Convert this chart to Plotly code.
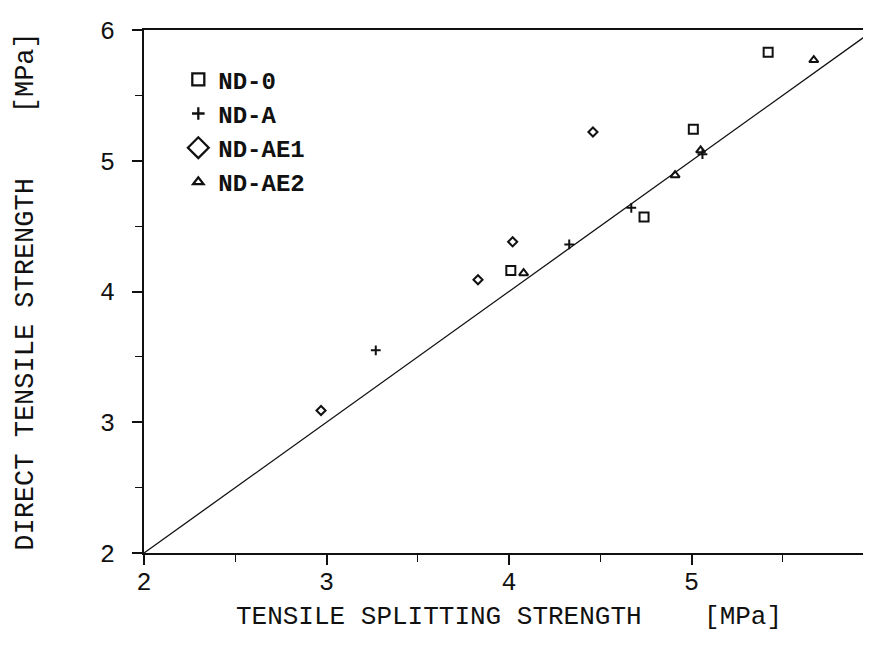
import plotly.graph_objects as go

# ---- data ----
nd0_x = [4.01, 4.74, 5.01, 5.42]
nd0_y = [4.16, 4.57, 5.24, 5.83]

nda_x = [3.27, 4.33, 4.67, 5.06]
nda_y = [3.55, 4.36, 4.64, 5.05]

ndae1_x = [2.97, 3.83, 4.02, 4.46]
ndae1_y = [3.09, 4.09, 4.38, 5.22]

ndae2_x = [4.08, 4.91, 5.05, 5.67]
ndae2_y = [4.14, 4.89, 5.08, 5.77]

line_x = [2, 6]
line_y = [2, 6]

series_names = ["ND-0", "ND-A", "ND-AE1", "ND-AE2"]
tick_vals = [2, 3, 4, 5, 6]

FONT = "Liberation Mono"
BLACK = "#111111"

symbols = ["square-open", "cross-thin-open", "diamond-open", "triangle-up-open"]
data_sizes = [9, 7, 7, 8]
legend_sizes = [12, 9, 16, 9]
series = [(nd0_x, nd0_y), (nda_x, nda_y), (ndae1_x, ndae1_y), (ndae2_x, ndae2_y)]

fig = go.Figure()

fig.add_trace(go.Scatter(x=line_x, y=line_y, mode="lines",
                         line=dict(color=BLACK, width=1.3),
                         showlegend=False, hoverinfo="skip"))

for (xs, ys), name, sym, sz in zip(series, series_names, symbols, data_sizes):
    fig.add_trace(go.Scatter(
        x=xs, y=ys, mode="markers", name=name, showlegend=False,
        marker=dict(symbol=sym, size=sz, color=BLACK,
                    line=dict(color=BLACK, width=2))))

for name, sym, sz in zip(series_names, symbols, legend_sizes):
    fig.add_trace(go.Scatter(
        x=[None], y=[None], mode="markers", name=name, showlegend=True,
        marker=dict(symbol=sym, size=sz, color=BLACK,
                    line=dict(color=BLACK, width=2.3))))

axis_common = dict(
    range=[2, 6], tickvals=tick_vals, showgrid=False, zeroline=False,
    showline=True, linecolor=BLACK, linewidth=2, mirror=True,
    ticks="outside", ticklen=10, tickwidth=1.5, tickcolor=BLACK,
    minor=dict(dtick=0.5, ticks="outside", ticklen=7, tickwidth=1.2, tickcolor=BLACK),
    tickfont=dict(family=FONT, size=25, color=BLACK),
    ticklabeloverflow="allow",
    automargin=False,
)

x_title = "TENSILE SPLITTING STRENGTH    [MPa]"
y_title = "DIRECT TENSILE STRENGTH    [MPa]"

fig.update_layout(
    width=871, height=649,
    paper_bgcolor="white", plot_bgcolor="white",
    margin=dict(l=136, r=5, t=22, b=104),
    xaxis=dict(**axis_common, ticklabelstandoff=-5,
               title=dict(text=x_title,
                          font=dict(family=FONT, size=26, color=BLACK),
                          standoff=9)),
    yaxis=dict(**axis_common, ticklabelstandoff=12,
               title=dict(text=y_title,
                          font=dict(family=FONT, size=27, color=BLACK),
                          standoff=59)),
    legend=dict(x=0.047, y=0.948, xanchor="left", yanchor="top",
                bgcolor="rgba(0,0,0,0)", borderwidth=0,
                font=dict(family=FONT, size=24, color=BLACK, weight="bold"),
                itemsizing="trace", tracegroupgap=0),
    showlegend=True,
)

fig.write_html("out.html")
